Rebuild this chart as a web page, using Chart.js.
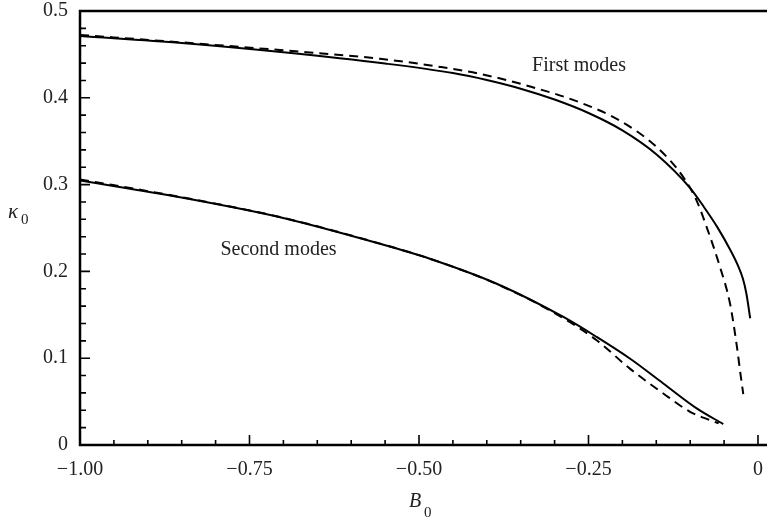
<!DOCTYPE html>
<html><head><meta charset="utf-8">
<script src="https://cdn.jsdelivr.net/npm/chart.js@4/dist/chart.umd.min.js"></script>
<style>html,body{margin:0;padding:0;background:#fff;overflow:hidden;} #wrap{width:767px;height:521px;position:relative;}</style>
</head><body><div id="wrap"><canvas id="c" width="767" height="521"></canvas></div>
<script>
// Axis ticks
const X_TICKS = [-1, -0.75, -0.5, -0.25, 0];
const X_TICK_LABELS = ['\u22121.00', '\u22120.75', '\u22120.50', '\u22120.25', '0'];
const Y_TICKS = [0, 0.1, 0.2, 0.3, 0.4, 0.5];
const Y_TICK_LABELS = ['0', '0.1', '0.2', '0.3', '0.4', '0.5'];

// First modes, solid
const firstSolidB0 = [-1.0, -0.85, -0.70, -0.55, -0.45, -0.40, -0.35, -0.30, -0.25, -0.20, -0.15, -0.10, -0.08, -0.06, -0.04, -0.03, -0.022, -0.017, -0.0115];
const firstSolidK0 = [0.4713, 0.4632, 0.4525, 0.4395, 0.4285, 0.4205, 0.4105, 0.398, 0.3825, 0.3625, 0.335, 0.296, 0.2745, 0.251, 0.2235, 0.2075, 0.191, 0.174, 0.146];
// First modes, dashed
const firstDashB0 = [-1.0, -0.8525, -0.705, -0.5575, -0.469, -0.41, -0.336, -0.2625, -0.2035, -0.149, -0.110, -0.0905, -0.0757, -0.056, -0.041, -0.0314, -0.0255, -0.0217];
const firstDashK0 = [0.4724, 0.464, 0.455, 0.445, 0.4356, 0.4276, 0.413, 0.3946, 0.3736, 0.343, 0.3084, 0.2816, 0.251, 0.205, 0.162, 0.115, 0.080, 0.0586];
// Second modes, solid
const secondSolidB0 = [-1.0, -0.8525, -0.705, -0.5575, -0.484, -0.3854, -0.287, -0.238, -0.189, -0.1397, -0.0904, -0.0512];
const secondSolidK0 = [0.3046, 0.2854, 0.2624, 0.2318, 0.2146, 0.1858, 0.1475, 0.1245, 0.0996, 0.0709, 0.0422, 0.0241];
// Second modes, dashed
const secondDashB0 = [-1.0, -0.8525, -0.705, -0.5575, -0.484, -0.3854, -0.30, -0.238, -0.189, -0.1397, -0.1003, -0.0708, -0.058];
const secondDashK0 = [0.306, 0.2858, 0.2626, 0.232, 0.2146, 0.1855, 0.152, 0.1207, 0.088, 0.0594, 0.0383, 0.0287, 0.025];

// Curve labels (text and anchor in data units)
const curveLabelText = ['First modes', 'Second modes'];
const curveLabelB0 = [-0.264, -0.7072];
const curveLabelK0 = [0.4375, 0.2253];

const pts = (xs, ys) => xs.map((x, i) => ({ x: x, y: ys[i] }));
const SERIF = '"Liberation Serif", "DejaVu Serif", serif';

function lineDs(xs, ys, dashed) {
  return {
    data: pts(xs, ys),
    showLine: true,
    borderColor: '#000',
    borderWidth: 2,
    borderDash: dashed ? [9, 6] : [],
    pointRadius: 0,
    fill: false,
    cubicInterpolationMode: 'monotone'
  };
}

const decorPlugin = {
  id: 'decor',
  afterDatasetsDraw(chart) {
    const ctx = chart.ctx;
    const { left, right, top, bottom } = chart.chartArea;
    const xs = chart.scales.x, ys = chart.scales.y;
    ctx.save();
    ctx.strokeStyle = '#000';
    ctx.lineWidth = 2.5;
    ctx.beginPath();
    ctx.moveTo(left, top); ctx.lineTo(right, top);
    ctx.moveTo(left, top - 1.25); ctx.lineTo(left, bottom + 1.25);
    ctx.moveTo(left, bottom); ctx.lineTo(right, bottom);
    ctx.stroke();
    ctx.lineWidth = 1.6;
    ctx.beginPath();
    for (let i = 0; i <= 20; i++) {
      const v = -1 + i * 0.05;
      const px = xs.getPixelForValue(v);
      const len = (i % 5 === 0) ? 10 : 5;
      ctx.moveTo(px, bottom); ctx.lineTo(px, bottom - len);
    }
    for (let i = 0; i <= 25; i++) {
      const v = i * 0.02;
      const py = ys.getPixelForValue(v);
      const len = (i % 5 === 0) ? 10 : 6;
      ctx.moveTo(left, py); ctx.lineTo(left + len, py);
    }
    ctx.stroke();
    // curve labels
    ctx.fillStyle = '#222';
    ctx.font = '20px ' + SERIF;
    ctx.textAlign = 'center';
    ctx.textBaseline = 'middle';
    for (let i = 0; i < curveLabelText.length; i++) {
      ctx.fillText(curveLabelText[i], xs.getPixelForValue(curveLabelB0[i]), ys.getPixelForValue(curveLabelK0[i]));
    }
    // axis titles
    ctx.textAlign = 'left';
    ctx.textBaseline = 'alphabetic';
    ctx.font = 'italic 21px ' + SERIF;
    ctx.fillText('\u03BA', 8, 218);
    ctx.font = '15px ' + SERIF;
    ctx.fillText('0', 21, 224);
    ctx.font = 'italic 20px ' + SERIF;
    ctx.fillText('B', 409, 507);
    ctx.font = '15px ' + SERIF;
    ctx.fillText('0', 424, 517);
    ctx.restore();
  }
};

const hiddenGrid = (len) => ({
  display: true, drawOnChartArea: false, drawTicks: true, tickLength: len,
  color: 'rgba(0,0,0,0)', lineWidth: 0
});

new Chart(document.getElementById('c'), {
  type: 'scatter',
  data: {
    datasets: [
      lineDs(firstSolidB0, firstSolidK0, false),
      lineDs(firstDashB0, firstDashK0, true),
      lineDs(secondSolidB0, secondSolidK0, false),
      lineDs(secondDashB0, secondDashK0, true)
    ]
  },
  options: {
    responsive: false,
    animation: false,
    devicePixelRatio: 1,
    layout: { padding: 0 },
    plugins: { legend: { display: false }, tooltip: { enabled: false } },
    scales: {
      x: {
        type: 'linear',
        min: -1,
        max: 0.0133,
        grid: hiddenGrid(13),
        border: { display: false },
        afterBuildTicks: s => { s.ticks = X_TICKS.map(v => ({ value: v })); },
        afterFit: s => { s.height = 76; },
        ticks: {
          autoSkip: false,
          maxRotation: 0,
          padding: 0,
          color: '#222',
          font: { family: SERIF, size: 20 },
          callback: (v) => { const i = X_TICKS.findIndex(t => Math.abs(t - v) < 1e-9); return i >= 0 ? X_TICK_LABELS[i] : ''; }
        }
      },
      y: {
        type: 'linear',
        min: 0,
        max: 0.5,
        grid: hiddenGrid(12),
        border: { display: false },
        afterBuildTicks: s => { s.ticks = Y_TICKS.map(v => ({ value: v })); },
        afterFit: s => { s.width = 80; },
        ticks: {
          autoSkip: false,
          padding: 0,
          color: '#222',
          font: { family: SERIF, size: 20, lineHeight: 1.1 },
          callback: (v) => { const i = Y_TICKS.findIndex(t => Math.abs(t - v) < 1e-9); return i >= 0 ? Y_TICK_LABELS[i] : ''; }
        }
      }
    }
  },
  plugins: [decorPlugin]
});
</script>
</body></html>
